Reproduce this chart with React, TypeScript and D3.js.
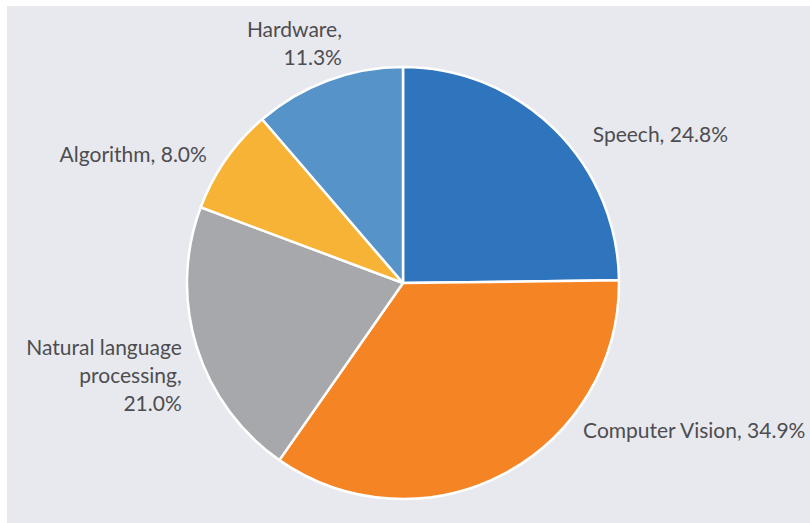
import React from "react";
import * as d3 from "d3";

const categories = ["Speech", "Computer Vision", "Natural language processing", "Algorithm", "Hardware"];
const shares = [24.8, 34.9, 21.0, 8.0, 11.3];
const colors = ["#2e75bd", "#f58424", "#a7a8ab", "#f6b336", "#5593c9"];
const labelLines = [
  ["Speech, 24.8%"],
  ["Computer Vision, 34.9%"],
  ["Natural language", "processing,", "21.0%"],
  ["Algorithm, 8.0%"],
  ["Hardware,", "11.3%"],
];
const labelAnchors = ["start", "start", "end", "end", "end"];
const labelOffsets: [number, number][] = [
  [38, 13],
  [79, -36],
  [-15, 8],
  [-19, 3],
  [14, -43.5],
];

const W = 810;
const H = 523;
const cx = 403;
const cy = 283;
const R = 216;
const lineHeight = 28;

export default function App() {
  const pie = d3
    .pie<number>()
    .sort(null)
    .value((d) => d)
    .startAngle(0)
    .endAngle(2 * Math.PI);
  const arcs = pie(shares);
  const arc = d3.arc<d3.PieArcDatum<number>>().innerRadius(0).outerRadius(R);

  return (
    <svg
      width={W}
      height={H}
      style={{ position: "absolute", left: 0, top: 0 }}
      fontFamily="Lato, 'Noto Sans', sans-serif"
    >
      <rect x={0} y={0} width={W} height={H} fill="#ffffff" />
      <rect x={7} y={6} width={W - 7} height={H - 6} fill="#e8e9ee" />
      <g transform={`translate(${cx},${cy})`}>
        {arcs.map((a, i) => (
          <path
            key={categories[i]}
            d={arc(a) || ""}
            fill={colors[i]}
            stroke="#ffffff"
            strokeWidth={2.5}
            strokeLinejoin="round"
          />
        ))}
        {arcs.map((a, i) => {
          const mid = (a.startAngle + a.endAngle) / 2;
          const px = R * Math.sin(mid) + labelOffsets[i][0];
          const py = -R * Math.cos(mid) + labelOffsets[i][1];
          return (
            <text
              key={"l" + categories[i]}
              x={px}
              y={py}
              textAnchor={labelAnchors[i]}
              fontSize={21}
              fill="#4d4d51"
            >
              {labelLines[i].map((ln, j) => (
                <tspan key={j} x={px} y={py + j * lineHeight}>
                  {ln}
                </tspan>
              ))}
            </text>
          );
        })}
      </g>
    </svg>
  );
}
